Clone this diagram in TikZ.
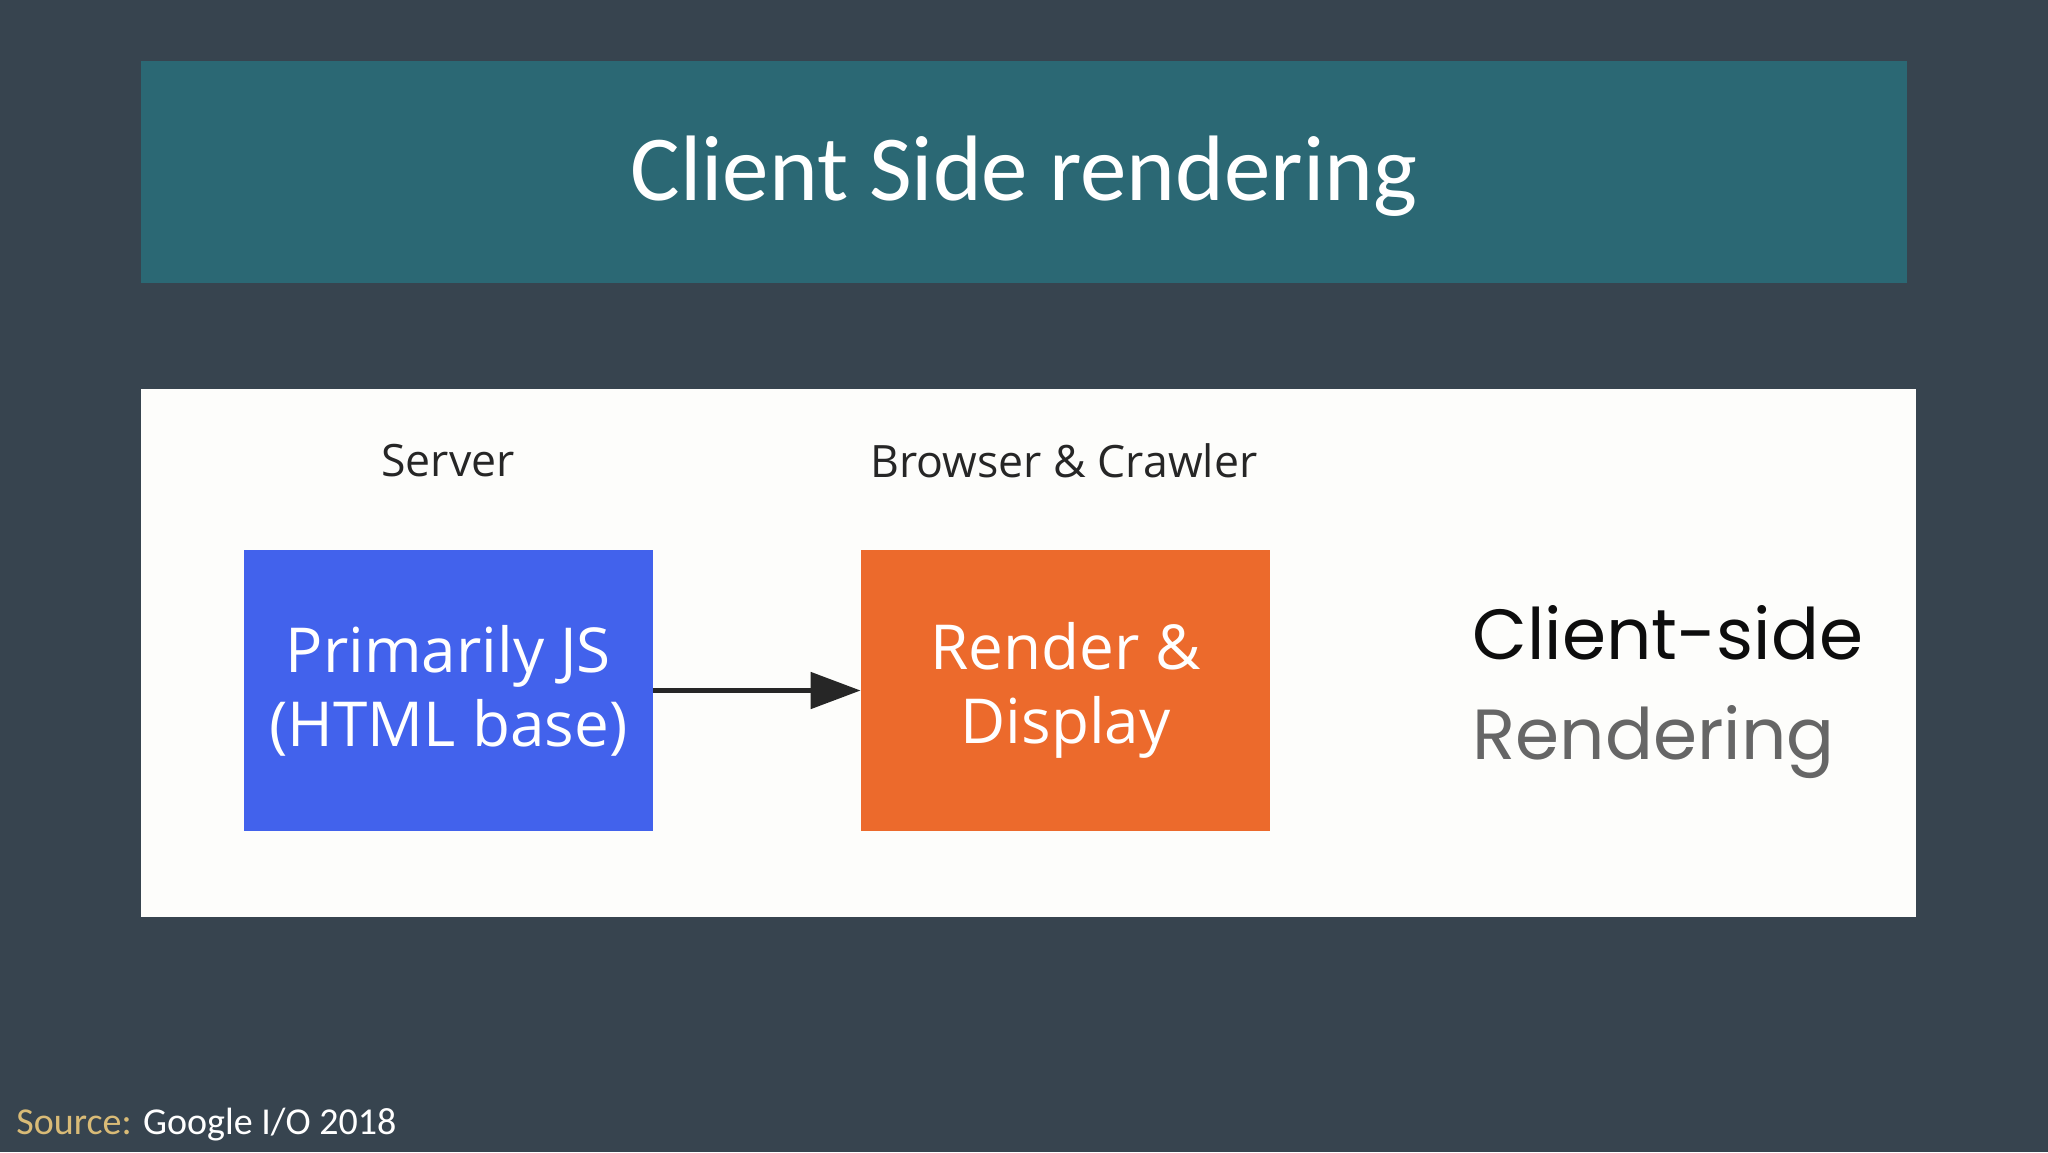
\documentclass[tikz,border=0pt]{standalone}
\usepackage{fontspec}
\setmainfont{Carlito}
\newfontfamily\boxfont{Open Sans}
\newfontfamily\gfont{Poppins}
\usetikzlibrary{arrows.meta}
\definecolor{bgc}{HTML}{37444F}
\definecolor{titlec}{HTML}{2B6874}
\definecolor{panelc}{HTML}{FDFDFB}
\definecolor{bluec}{HTML}{4262EC}
\definecolor{orangec}{HTML}{EC6A2C}
\definecolor{goldc}{HTML}{D9BB77}
\definecolor{grayc}{HTML}{666666}
\tikzset{
  procbox/.style={fill=#1, draw=none, minimum width=204.5pt, minimum height=140.5pt, inner sep=0pt,
    text=white, font=\boxfont\fontsize{31}{37}\selectfont, align=center},
  headlabel/.style={font=\boxfont\fontsize{22.3}{28}\selectfont, text=black!85},
}
\begin{document}
\begin{tikzpicture}[x=0.5pt,y=-0.5pt]
\fill[bgc] (0,0) rectangle (2048,1152);
\useasboundingbox (0,0) rectangle (2048,1152);
\node[fill=titlec, minimum width=883pt, minimum height=111pt, inner sep=0pt] (title) at (1024,172) {};
\node[text=white, font=\fontsize{46.5}{54}\selectfont] (titletext) at (1024,176) {Client Side rendering};
\node[fill=panelc, minimum width=887.5pt, minimum height=264pt, inner sep=0pt] (panel) at (1028.5,653) {};
\node[headlabel] (server) at (448,461) {Server};
\node[headlabel] (browser) at (1064,461) {Browser \& Crawler};
\node[procbox=bluec] (js) at (448.5,690.5) {Primarily JS\\(HTML base)};
\node[procbox=orangec] (render) at (1065.5,690.5) {Render \&\\Display};
\draw[line width=2.5pt, draw=black!85, -{Triangle[length=25pt,width=18pt]}] (js.east) -- (render.west);
\node[anchor=west, inner sep=0pt, font=\gfont\fontsize{35.5}{44}\selectfont, text=black!95] (cs) at (1472,633) {Client-side};
\node[anchor=west, inner sep=0pt, font=\gfont\fontsize{35.5}{44}\selectfont, text=grayc] (rend) at (1472,742) {Rendering};
\node[anchor=base west, inner sep=0pt, font=\fontsize{19}{24}\selectfont] (src) at (16,1134) {\textcolor{goldc}{Source:} \textcolor{white}{Google I/O 2018}};
\end{tikzpicture}
\end{document}
